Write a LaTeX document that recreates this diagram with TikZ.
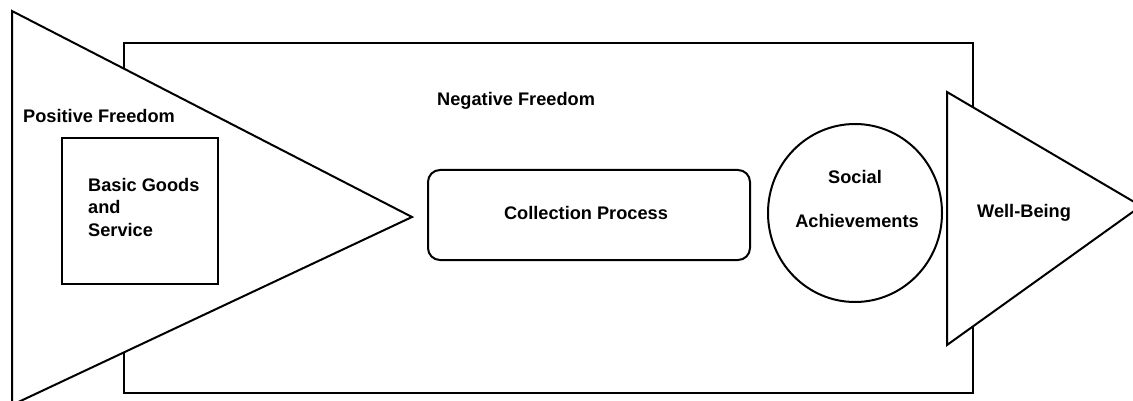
\documentclass[tikz,border=0pt]{standalone}
\usepackage{fontspec}
\setmainfont{Liberation Sans}
\usetikzlibrary{shapes.geometric}
\begin{document}
\begin{tikzpicture}[x=1pt,y=-1pt,
  lbl/.style={font=\fontsize{18.2}{22}\selectfont\bfseries, inner sep=0pt, text=black},
  shapeline/.style={draw=black, line width=2pt, line join=miter, fill=white},
  boxnode/.style={shapeline, rectangle, inner sep=0pt, anchor=north west}]
\useasboundingbox (0,0) rectangle (1133,401);
\fill[white] (0,0) rectangle (1133,401);
\clip (0,0) rectangle (1133,401);
% outer rectangle (Negative Freedom)
\node[boxnode, minimum width=849pt, minimum height=350pt] (neg) at (123,42) {};
% left triangle (Positive Freedom)
\draw[shapeline] (12,11) coordinate (pa) -- (412,217) coordinate (ptip) -- (12,405) coordinate (pb) -- cycle;
% basic goods box
\node[boxnode, minimum width=156pt, minimum height=146pt] (basic) at (61,137) {};
% collection process
\node[shapeline, rectangle, rounded corners=12pt, inner sep=0pt, minimum width=322pt, minimum height=90pt] (coll) at (589,215) {};
% social achievements
\node[shapeline, ellipse, inner sep=0pt, minimum width=174pt, minimum height=178pt] (soc) at (855,213) {};
% right triangle (Well-Being)
\draw[shapeline] (947,92) coordinate (wa) -- (1141,206) coordinate (wtip) -- (947,345) coordinate (wb) -- cycle;
% texts
\node[lbl, anchor=base west] (tpos) at (23,123) {Positive Freedom};
\node[lbl, anchor=base west] (tneg) at (437,106) {Negative Freedom};
\node[lbl, anchor=base west] (tb1) at (88,192) {Basic Goods};
\node[lbl, anchor=base west] (tb2) at (88,214) {and};
\node[lbl, anchor=base west] (tb3) at (88,236) {Service};
\node[lbl, anchor=base] (tcoll) at (586,219) {Collection Process};
\node[lbl, anchor=base] (tsoc1) at (855,183) {Social};
\node[lbl, anchor=base] (tsoc2) at (857,227) {Achievements};
\node[lbl, anchor=base west] (twell) at (977,217) {Well-Being};
\end{tikzpicture}
\end{document}
